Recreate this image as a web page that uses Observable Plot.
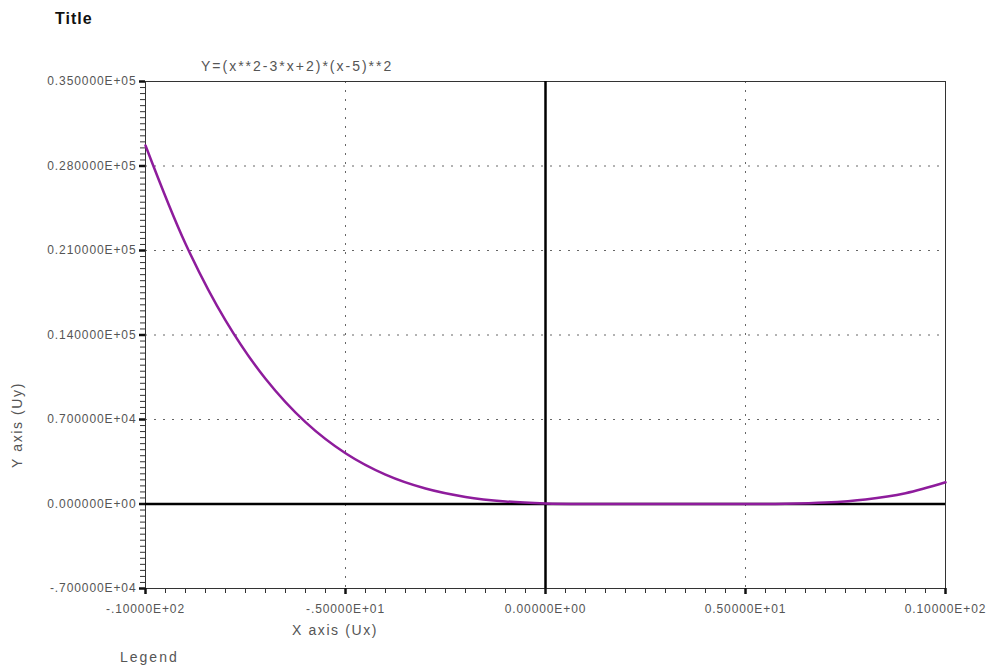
<!DOCTYPE html>
<html>
<head>
<meta charset="utf-8">
<script src="https://cdn.jsdelivr.net/npm/d3@7"></script>
<script src="https://cdn.jsdelivr.net/npm/@observablehq/plot@0.6"></script>
<style>
  html, body { margin: 0; padding: 0; background: #fff; }
  #wrap { position: relative; width: 987px; height: 669px; font-family: "Liberation Sans", Arial, sans-serif; }
  #wrap svg { position: absolute; left: 0; top: 0; }
  .lbl { position: absolute; white-space: nowrap; color: #555; }
</style>
</head>
<body>
<div id="wrap">
  <div class="lbl" style="left:55px;top:10px;font-size:16px;font-weight:bold;letter-spacing:1px;color:#111;">Title</div>
  <div class="lbl" style="left:201px;top:58px;font-size:14px;letter-spacing:2px;">Y=(x**2-3*x+2)*(x-5)**2</div>
  <div class="lbl" style="left:292px;top:622px;font-size:14px;letter-spacing:1.6px;">X axis (Ux)</div>
  <div class="lbl" style="left:120px;top:649px;font-size:14px;letter-spacing:2px;">Legend</div>
  <div class="lbl" style="left:-28px;top:417px;font-size:14px;letter-spacing:1.6px;transform:rotate(-90deg);transform-origin:50% 50%;width:90px;text-align:center;">Y axis (Uy)</div>
</div>
<script>
const xValues = [-10, -9, -8, -7, -6, -5, -4, -3, -2, -1, 0, 1, 2, 3, 4, 5, 6, 7, 8, 9, 10];
const yValues = [29700, 21560, 15210, 10368, 6776, 4200, 2430, 1280, 588, 216, 50, 0, 0, 8, 6, 0, 20, 120, 378, 896, 1800];

const yTicks = [-7000, 0, 7000, 14000, 21000, 28000, 35000];
const yTickLabels = ["-.700000E+04", "0.000000E+00", "0.700000E+04", "0.140000E+05", "0.210000E+05", "0.280000E+05", "0.350000E+05"];
const xTicks = [-10, -5, 0, 5, 10];
const xTickLabels = ["-.10000E+02", "-.50000E+01", "0.00000E+00", "0.50000E+01", "0.10000E+02"];
const xMinorStep = 0.5;
const yMinorStep = 500;

const data = xValues.map((x, i) => ({x, y: yValues[i]}));
const xMinor = d3.range(-10, 10 + 1e-9, xMinorStep);
const yMinor = d3.range(-7000, 35000 + 1e-9, yMinorStep);

const chart = Plot.plot({
  width: 987,
  height: 669,
  marginLeft: 145,
  marginRight: 42,
  marginTop: 81,
  marginBottom: 81,
  style: {fontFamily: "Liberation Sans, Arial, sans-serif", fontSize: "12px", color: "#555", background: "transparent", letterSpacing: "0.9px"},
  x: {domain: [-10, 10]},
  y: {domain: [-7000, 35000]},
  marks: [
    Plot.gridX([-5, 5], {stroke: "#666", strokeOpacity: 1, strokeWidth: 1, strokeDasharray: "2,7"}),
    Plot.gridY([7000, 14000, 21000, 28000], {stroke: "#666", strokeOpacity: 1, strokeWidth: 1, strokeDasharray: "2,7"}),
    Plot.frame({stroke: "#333", strokeWidth: 1}),
    Plot.ruleY([0], {stroke: "#000", strokeWidth: 2.5}),
    Plot.ruleX([0], {stroke: "#000", strokeWidth: 2.5}),
    Plot.axisY(yMinor, {tickSize: 5, text: null, stroke: "#333", strokeWidth: 1, label: null}),
    Plot.axisY(yTicks, {tickSize: 6, tickPadding: 3, strokeWidth: 2.5, stroke: "#111", fill: "#555", label: null,
      tickFormat: d => yTickLabels[yTicks.indexOf(d)]}),
    Plot.axisX(xMinor, {tickSize: 5, text: null, stroke: "#333", strokeWidth: 1, label: null}),
    Plot.axisX(xTicks, {tickSize: 6, tickPadding: 10, strokeWidth: 2.5, stroke: "#111", fill: "#555", label: null,
      tickFormat: d => xTickLabels[xTicks.indexOf(d)]}),
    Plot.line(data, {x: "x", y: "y", stroke: "#8e1c9c", strokeWidth: 2.5, curve: "catmull-rom"})
  ]
});
document.getElementById("wrap").prepend(chart);
</script>
</body>
</html>
